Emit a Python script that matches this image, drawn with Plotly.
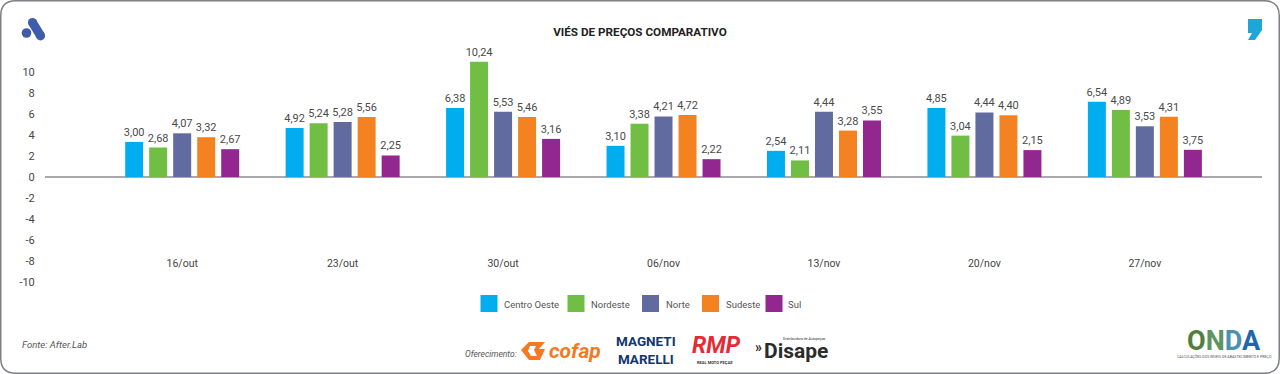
import plotly.graph_objects as go

W, H = 1280, 374
FONT = "Roboto, sans-serif"

title = "VIÉS DE PREÇOS COMPARATIVO"
categories = ["16/out", "23/out", "30/out", "06/nov", "13/nov", "20/nov", "27/nov"]
y_ticks = [10, 8, 6, 4, 2, 0, -2, -4, -6, -8, -10]

series_names = ["Centro Oeste", "Nordeste", "Norte", "Sudeste", "Sul"]

# bar heights as drawn in the picture
centro_oeste = [3.34, 4.67, 6.56, 2.97, 2.49, 6.56, 7.16]
nordeste = [2.81, 5.11, 10.98, 5.08, 1.58, 3.94, 6.37]
norte = [4.16, 5.24, 6.21, 5.77, 6.21, 6.15, 4.83]
sudeste = [3.79, 5.71, 5.71, 5.90, 4.42, 5.87, 5.74]
sul = [2.65, 2.05, 3.63, 1.70, 5.39, 2.56, 2.59]

# value labels as printed in the picture
centro_oeste_labels = ["3,00", "4,92", "6,38", "3,10", "2,54", "4,85", "6,54"]
nordeste_labels = ["2,68", "5,24", "10,24", "3,38", "2,11", "3,04", "4,89"]
norte_labels = ["4,07", "5,28", "5,53", "4,21", "4,44", "4,44", "3,53"]
sudeste_labels = ["3,32", "5,56", "5,46", "4,72", "3,28", "4,40", "4,31"]
sul_labels = ["2,67", "2,25", "3,16", "2,22", "3,55", "2,15", "3,75"]

colors = ["#00AEEF", "#70BF44", "#616B9F", "#F58220", "#92278F"]


def X(px):
    return px / W


def Y(px):
    return 1 - px / H


fig = go.Figure()
for name, vals, labels, col in zip(
    series_names,
    [centro_oeste, nordeste, norte, sudeste, sul],
    [centro_oeste_labels, nordeste_labels, norte_labels, sudeste_labels, sul_labels],
    colors,
):
    fig.add_bar(
        x=categories, y=vals, name=name, text=labels, marker_color=col,
        marker_line_width=0, textposition="outside", textangle=0,
        constraintext="none", cliponaxis=False,
        textfont=dict(family=FONT, size=11, color="#4a4a4a"),
        hoverinfo="x+y+name", showlegend=False,
    )

shapes = []
annotations = []


def note(text, x, y, size, color="#444444", family=FONT, xanchor="left", yanchor="middle", **kw):
    annotations.append(dict(
        text=text, x=X(x), y=Y(y), xref="paper", yref="paper", showarrow=False,
        xanchor=xanchor, yanchor=yanchor, borderpad=0,
        font=dict(family=family, size=size, color=color), **kw))


def poly(d, color):
    shapes.append(dict(type="path", path=d, xref="paper", yref="paper",
                       fillcolor=color, line_width=0, layer="above"))


def P(pairs):
    return "M" + " L".join(f"{X(a):.5f},{Y(b):.5f}" for a, b in pairs) + " Z"


def circle(cx, cy, r, color):
    shapes.append(dict(type="circle", xref="paper", yref="paper", x0=X(cx - r), x1=X(cx + r),
                       y0=Y(cy + r), y1=Y(cy - r), fillcolor=color, line_width=0, layer="above"))


# rounded frame
r = 15
a, b, c, d = 0.75, 0.75, W - 0.75, H - 0.75
frame = (f"M{X(a+r):.5f},{Y(b):.5f} L{X(c-r):.5f},{Y(b):.5f} Q{X(c):.5f},{Y(b):.5f} {X(c):.5f},{Y(b+r):.5f} "
         f"L{X(c):.5f},{Y(d-r):.5f} Q{X(c):.5f},{Y(d):.5f} {X(c-r):.5f},{Y(d):.5f} "
         f"L{X(a+r):.5f},{Y(d):.5f} Q{X(a):.5f},{Y(d):.5f} {X(a):.5f},{Y(d-r):.5f} "
         f"L{X(a):.5f},{Y(b+r):.5f} Q{X(a):.5f},{Y(b):.5f} {X(a+r):.5f},{Y(b):.5f} Z")
shapes.append(dict(type="path", path=frame, xref="paper", yref="paper",
                   line=dict(color="#7f8085", width=1.5), fillcolor="rgba(0,0,0,0)", layer="below"))

# top left brand mark
ACC = "#3F5CAB"
circle(26.5, 33, 4.8, ACC)
circle(32.5, 22.5, 4.6, ACC)
circle(40.5, 35.8, 4.6, ACC)
poly(P([(28.6, 24.8), (36.4, 20.2), (44.4, 33.5), (36.6, 38.1)]), ACC)

# top right brand mark
poly(P([(1248, 19), (1262, 19), (1262, 30), (1255, 40), (1248, 40), (1252, 33), (1248, 33)]), "#1FA6D8")

# legend
leg_swatch_x = [480.5, 567.5, 642, 702, 765.5]
leg_text_x = [503, 590, 664.5, 724.5, 787]
for name, col, sx, tx in zip(series_names, colors, leg_swatch_x, leg_text_x):
    shapes.append(dict(type="rect", xref="paper", yref="paper", x0=X(sx), x1=X(sx + 17),
                       y0=Y(312), y1=Y(295), fillcolor=col, line_width=0))
    note(name, tx, 304.5, 9.5, color="#555555")

note("<i>Fonte: After.Lab</i>", 20.5, 344, 9.5, color="#555555")
note("<i>Oferecimento:</i>", 464, 353.5, 8.5, color="#555555")

# sponsor wordmarks
ORG = "#F47920"
poly(P([(521, 350), (529, 342), (545, 342), (539, 349), (545, 349), (540, 360), (529, 360)]), ORG)
poly(P([(530, 346), (536, 346), (534, 350), (537, 356), (531, 356), (528, 351)]), "#ffffff")
note("<b><i>cofap</i></b>", 548, 350.5, 21, color=ORG)
note("<b>MAGNETI<br>MARELLI</b>", 646, 350, 13.5, color="#12366F", xanchor="center")
note("<b><i>RMP</i></b>", 716, 345.5, 23, color="#E42C37", xanchor="center")
note("<b>REAL MOTO PEÇAS</b>", 715, 362, 4, color="#333333", xanchor="center")
note("<b>»</b>", 754, 347, 14, color="#2B2B2B")
note("<b>Disape</b>", 763, 351, 21, color="#2B2B2B")
note("Distribuidora de Autopeças", 826, 338.5, 3.5, color="#333333", xanchor="right")
note("<b><span style='color:#4F7F3E'>O</span><span style='color:#5E9460'>N</span>"
     "<span style='color:#4C92B0'>D</span><span style='color:#1E66AE'>A</span></b>",
     1224, 341, 27, xanchor="center")
note("CALCULAÇÕES DOS NÍVEIS DE ABASTECIMENTO E PREÇO", 1224.5, 356, 3.6, color="#555555",
     xanchor="center")

fig.update_layout(
    width=W, height=H, autosize=False,
    margin=dict(l=0, r=0, t=0, b=0, pad=0),
    paper_bgcolor="#ffffff", plot_bgcolor="#ffffff",
    barmode="group", bargap=0.252, bargroupgap=0.25,
    showlegend=False,
    font=dict(family=FONT, size=11, color="#444444"),
    title=dict(text=f"<b>{title}</b>", x=0.5, xref="paper", xanchor="center",
               y=Y(31.5), yref="paper", yanchor="middle",
               font=dict(family=FONT, size=11.7, color="#222222")),
    xaxis=dict(
        automargin=False,
        domain=[X(45), X(1262)], type="category", range=[-0.855, 6.73],
        categoryorder="array", categoryarray=categories,
        anchor="free", position=Y(255), showline=False, showgrid=False, zeroline=False,
        ticks="", tickfont=dict(family=FONT, size=10.5, color="#444444"),
    ),
    yaxis=dict(
        automargin=False,
        domain=[Y(282), Y(51)], range=[-10, 12], tickmode="array", tickvals=y_ticks,
        ticktext=[str(v) for v in y_ticks], showgrid=False, showline=False,
        zeroline=True, zerolinecolor="#a9a9ad", zerolinewidth=1.5,
        ticks="outside", ticklen=7, tickcolor="rgba(0,0,0,0)",
        tickfont=dict(family=FONT, size=11, color="#444444"),
    ),
    shapes=shapes, annotations=annotations,
)

fig.write_html(
    "out.html",
    default_width=f"{W}px", default_height=f"{H}px",
    config=dict(displayModeBar=False, responsive=False),
    post_script="document.body.style.margin='0';document.documentElement.style.overflow='hidden';",
)
